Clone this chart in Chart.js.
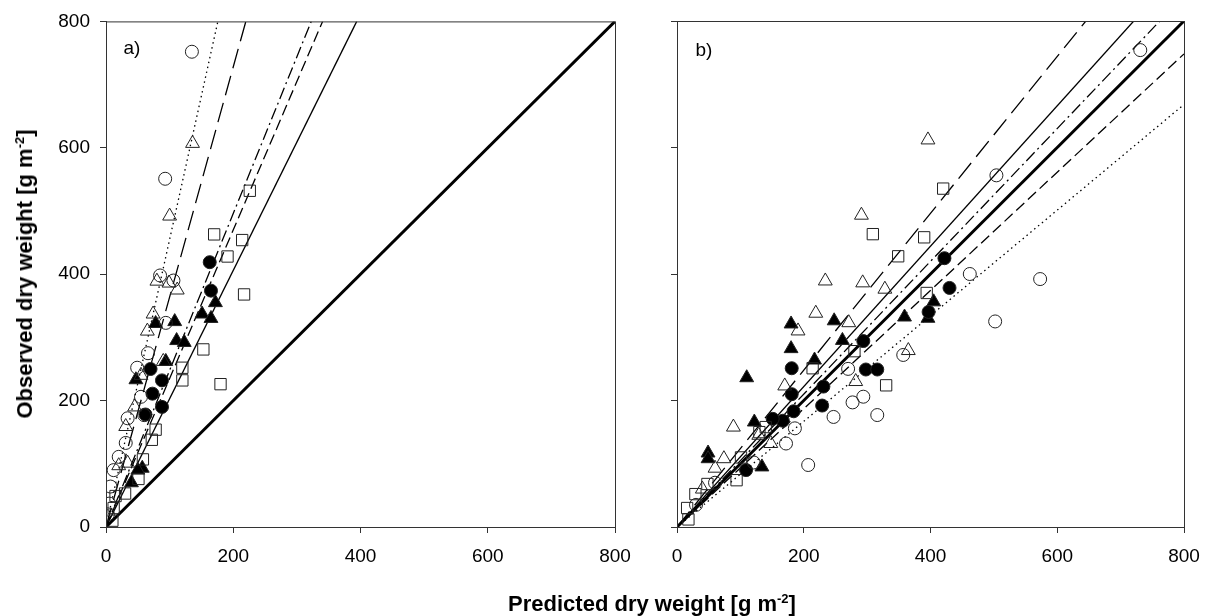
<!DOCTYPE html>
<html>
<head>
<meta charset="utf-8">
<script src="https://cdn.jsdelivr.net/npm/chart.js@4.4.1/dist/chart.umd.min.js"></script>
<style>
  body { margin: 0; background: #fff; }
  #wrap { position: relative; width: 1205px; height: 616px; overflow: hidden; font-family: "Liberation Sans", Arial, sans-serif; color: #000; }
  #ca { position: absolute; left: 0; top: 0; }
  #cb { position: absolute; left: 620px; top: 0; }
  .title { position: absolute; font-weight: bold; font-size: 22px; line-height: 24px; white-space: nowrap; transform: translate(-50%, -50%); }
  .title sup { font-size: 13px; line-height: 0; }
  #ytitle { left: 25px; top: 274px; transform: translate(-50%, -50%) rotate(-90deg); }
  #xtitle { left: 652px; top: 604px; }
  .panel { position: absolute; font-size: 19px; transform: translate(-50%, -50%); }
</style>
</head>
<body>
<div id="wrap">
  <canvas id="ca" width="660" height="616"></canvas>
  <canvas id="cb" width="610" height="616"></canvas>
  <div class="title" id="ytitle">Observed dry weight [g m<sup>-2</sup>]</div>
  <div class="title" id="xtitle">Predicted dry weight [g m<sup>-2</sup>]</div>
  <div class="panel" style="left:132px;top:48px">a)</div>
  <div class="panel" style="left:704px;top:50px">b)</div>
</div>
<script>
// axis range and ticks (both panels)
const AXIS_MIN = 0;
const AXIS_MAX = 800;
const TICK_STEP = 200;

// panel a) -- [predicted, observed]
const aOpenCircle = [[135,752],[93,551],[85,398],[106,390],[94,323],[66,275],[49,252],[55,206],[60,177],[34,172],[31,133],[20,111],[12,90],[7,64],[5,37],[3,20]];
const aOpenTriangle = [[136,607],[100,492],[80,389],[99,386],[112,375],[74,337],[65,310],[90,262],[55,240],[45,190],[31,159],[34,101],[20,97]];
const aOpenSquare = [[226,532],[170,463],[214,454],[191,428],[217,368],[180,226],[153,281],[120,252],[120,232],[78,154],[72,138],[58,107],[51,76],[30,53],[15,49],[12,30],[10,10]];
const aFilledCircle = [[163,419],[165,374],[70,250],[88,232],[73,211],[88,190],[62,178]];
const aFilledTriangle = [[172,355],[151,337],[165,330],[108,325],[78,322],[111,295],[123,292],[94,262],[47,233],[57,93],[50,90],[40,70]];
// regression slopes: dotted, long dash, dash-dot, dash, thin solid
const aSlope = [4.55, 3.64, 2.48, 2.35, 2.03];

// panel b)
const bOpenCircle = [[731,754],[504,556],[462,400],[573,392],[502,325],[357,272],[294,206],[277,197],[316,177],[270,250],[247,174],[207,98],[186,156],[172,132],[121,102],[60,70],[30,35]];
const bOpenTriangle = [[396,612],[291,493],[234,389],[293,386],[328,376],[219,338],[271,323],[191,310],[365,279],[282,230],[170,223],[89,158],[148,132],[129,145],[74,108],[60,93],[40,60]];
const bOpenSquare = [[420,535],[309,463],[390,458],[349,428],[394,370],[330,224],[214,251],[280,278],[140,158],[130,150],[101,110],[94,74],[48,68],[29,52],[16,30],[18,12]];
const bFilledCircle = [[422,425],[430,378],[397,340],[294,294],[298,249],[316,249],[181,251],[181,210],[231,222],[229,192],[184,183],[167,168],[151,171],[109,90]];
const bFilledTriangle = [[405,356],[396,330],[359,332],[180,321],[248,326],[261,295],[180,282],[217,264],[110,236],[122,166],[49,117],[49,108],[134,95]];
const bSlope = [0.835, 1.24, 1.05, 0.935, 1.11];

const FONT = "'Liberation Sans', Arial, sans-serif";
const DASHES = [[1.5, 3.5], [20, 8], [12, 4, 2, 4], [11, 5], []];

const toXY = pts => pts.map(([x, y]) => ({ x, y }));

// line through origin, ends where it leaves the square
function fitLine(slope) {
  const xEnd = Math.min(AXIS_MAX, AXIS_MAX / slope);
  return [{ x: 0, y: 0 }, { x: xEnd, y: slope * xEnd }];
}

const frame = {
  id: "frame",
  afterDraw(chart) {
    const { ctx, chartArea: a } = chart;
    ctx.save();
    ctx.strokeStyle = "#333";
    ctx.lineWidth = 1;
    ctx.strokeRect(a.left + 0.5, a.top + 0.5, a.right - a.left, a.bottom - a.top);
    ctx.restore();
  },
};

function pointSet(pts, style, filled, radius) {
  return {
    type: "scatter",
    data: toXY(pts),
    pointStyle: style,
    pointRadius: radius,
    pointBorderWidth: 1,
    pointBorderColor: "#222",
    pointBackgroundColor: filled ? "#000" : "rgba(0,0,0,0)",
    showLine: false,
  };
}

function lineSet(data, dash, width) {
  return {
    type: "line",
    data,
    borderColor: "#000",
    borderWidth: width,
    borderDash: dash,
    pointRadius: 0,
    fill: false,
    tension: 0,
  };
}

function scale(pos, showLabels, fitSize) {
  return {
    type: "linear",
    position: pos,
    min: AXIS_MIN,
    max: AXIS_MAX,
    ticks: {
      stepSize: TICK_STEP,
      display: showLabels,
      color: "#000",
      font: { family: FONT, size: 19 },
      padding: pos === "left" ? 10 : 12,
      maxRotation: 0,
    },
    grid: { drawOnChartArea: false, drawTicks: true, tickLength: 6, color: "#333", lineWidth: 1 },
    border: { display: true, color: "#333", width: 1 },
    afterFit(s) {
      if (pos === "left") s.width = fitSize;
      else s.height = fitSize;
    },
  };
}

function makeChart(id, sets, slopes, showY, yWidth, rightPad) {
  const datasets = [
    pointSet(sets.openCircle, "circle", false, 6.5),
    pointSet(sets.openTriangle, "triangle", false, 8),
    pointSet(sets.openSquare, "rect", false, 8),
    pointSet(sets.filledCircle, "circle", true, 6.5),
    pointSet(sets.filledTriangle, "triangle", true, 8),
  ];
  slopes.forEach((s, i) => datasets.push(lineSet(fitLine(s), DASHES[i], 1.3)));
  datasets.push(lineSet(fitLine(1), [], 3));

  return new Chart(document.getElementById(id), {
    data: { datasets },
    options: {
      responsive: false,
      animation: false,
      layout: { padding: { top: 21, right: rightPad, left: 0, bottom: 0 } },
      plugins: { legend: { display: false }, tooltip: { enabled: false } },
      scales: {
        x: scale("bottom", true, 616 - 527),
        y: scale("left", showY, yWidth),
      },
    },
    plugins: [frame],
  });
}

makeChart("ca", {
  openCircle: aOpenCircle, openTriangle: aOpenTriangle, openSquare: aOpenSquare,
  filledCircle: aFilledCircle, filledTriangle: aFilledTriangle,
}, aSlope, true, 106, 45);

makeChart("cb", {
  openCircle: bOpenCircle, openTriangle: bOpenTriangle, openSquare: bOpenSquare,
  filledCircle: bFilledCircle, filledTriangle: bFilledTriangle,
}, bSlope, false, 57, 46);
</script>
</body>
</html>
